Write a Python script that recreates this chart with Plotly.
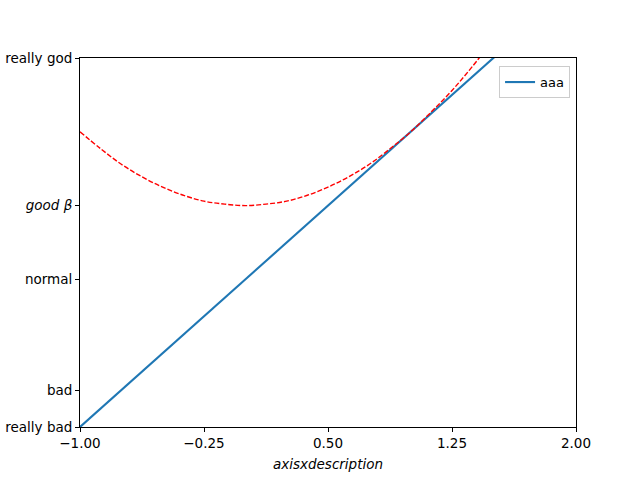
import plotly.graph_objects as go

# straight line (series "aaa")
line_x = [-1.5, 2.0]
line_y = [-3.0, 4.0]

# red dashed curve
curve_x = [-1.0, -0.875, -0.75, -0.625, -0.5, -0.375, -0.25, -0.125, 0.0, 0.125,
           0.25, 0.375, 0.5, 0.625, 0.75, 0.875, 1.0, 1.125, 1.25, 1.375, 1.5]
curve_y = [2.0, 1.77, 1.56, 1.39, 1.25, 1.14, 1.06, 1.02, 1.0, 1.02,
           1.06, 1.14, 1.25, 1.39, 1.56, 1.77, 2.0, 2.27, 2.56, 2.89, 3.25]

x_ticks = [-1.0, -0.25, 0.5, 1.25, 2.0]
x_labels = ["\u22121.00", "\u22120.25", "0.50", "1.25", "2.00"]
y_ticks = [-2.0, -1.5, 0.0, 1.0, 3.0]
y_labels = ["really bad", "bad", "normal", "<i>good \u03b2</i>", "really god"]

fig = go.Figure()
fig.add_trace(go.Scatter(x=line_x, y=line_y, mode="lines", name="aaa",
                         line=dict(color="#1f77b4", width=2.1)))
fig.add_trace(go.Scatter(x=curve_x, y=curve_y, mode="lines", showlegend=False,
                         line=dict(color="red", width=1.4, dash="5px,2px", shape="spline")))

axis_common = dict(showgrid=False, zeroline=False, showline=True, linecolor="black",
                   linewidth=1, mirror=True, ticks="outside", ticklen=4, tickwidth=1,
                   tickcolor="black", tickfont=dict(size=13.5, color="black"),
                   automargin=False)

fig.update_xaxes(range=[-1, 2], tickvals=x_ticks, ticktext=x_labels,
                 title=dict(text="<i>axisxdescription</i>", font=dict(size=13.5, color="black"),
                            standoff=9),
                 **axis_common)
fig.update_yaxes(range=[-2, 3], tickvals=y_ticks, ticktext=y_labels, **axis_common)

fig.update_layout(
    width=640, height=480,
    margin=dict(l=80, r=64, t=58, b=53),
    plot_bgcolor="white", paper_bgcolor="white",
    font=dict(family="DejaVu Sans", size=13.5, color="black"),
    legend=dict(x=0.988, y=0.978, xanchor="right", yanchor="top",
                bordercolor="#cccccc", borderwidth=1, bgcolor="white",
                font=dict(size=13), tracegroupgap=0),
)

# drop the browser's default 8px body margin so the figure sits at the page corner
fig.write_html("out.html", config={"displayModeBar": False},
               post_script="document.body.style.margin='0';")
